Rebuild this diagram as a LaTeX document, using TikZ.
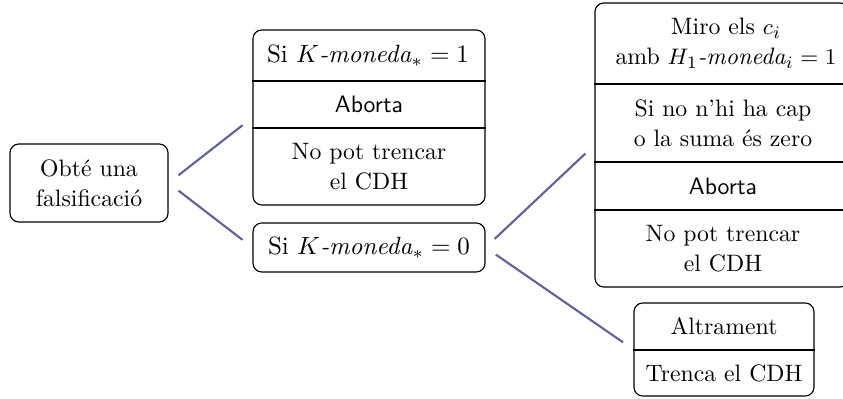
\documentclass[tikz,border=0pt]{standalone}
\usepackage{amsmath}
\definecolor{edgeblue}{RGB}{96,96,164}
\newcommand{\mathline}{\fontsize{10}{12}\selectfont}
\begin{document}
\begin{tikzpicture}[x=0.4pt,y=-0.4pt,
  font=\fontsize{9.5}{12}\selectfont,
  box/.style={draw, rounded corners=3.5pt, inner sep=0pt, line width=0.45pt},
  txt/.style={inner sep=0pt, align=center},
  sep/.style={line width=0.45pt},
  conn/.style={draw=edgeblue, line width=0.85pt, shorten <=5pt, shorten >=5pt}]
\useasboundingbox (0,0) rectangle (843,399);
% left box
\node[box, minimum width=63.2pt, minimum height=31.2pt, txt] (L) at (89,183) {Obté una\\falsificació};
% middle top box
\node[box, minimum width=92.8pt, minimum height=70pt] (M1) at (369,117.5) {};
\node[txt] (M1a) at (368,55.5) {\mathline Si $K$\textit{-moneda}$_* = 1$};
\node[txt] (M1b) at (369,104.5) {\sffamily Aborta};
\node[txt] (M1c) at (369,166.5) {No pot trencar\\el CDH};
\coordinate (m1d1) at (0,81);
\coordinate (m1d2) at (0,128);
\draw[sep] (M1.west|-m1d1) -- (M1.east|-m1d1);
\draw[sep] (M1.west|-m1d2) -- (M1.east|-m1d2);
% middle bottom box
\node[box, minimum width=92.8pt, minimum height=19.6pt, txt] (M2) at (369,247.5) {\mathline Si $K$\textit{-moneda}$_* = 0$};
% right top box
\node[box, minimum width=101.6pt, minimum height=113.6pt] (R1) at (722,145) {};
\node[txt] (R1a) at (726,43.5) {Miro els $c_i$\\amb $H_1$\textit{-moneda}$_i = 1$};
\node[txt] (R1b) at (723,123) {Si no n'hi ha cap\\o la suma és zero};
\node[txt] (R1c) at (723,186) {\sffamily Aborta};
\node[txt] (R1d) at (723,248.5) {No pot trencar\\el CDH};
\coordinate (r1d1) at (0,84);
\coordinate (r1d2) at (0,162);
\coordinate (r1d3) at (0,210);
\draw[sep] (R1.west|-r1d1) -- (R1.east|-r1d1);
\draw[sep] (R1.west|-r1d2) -- (R1.east|-r1d2);
\draw[sep] (R1.west|-r1d3) -- (R1.east|-r1d3);
% right bottom box
\node[box, minimum width=72pt, minimum height=37.2pt] (R2) at (724,349.5) {};
\node[txt] (R2a) at (724,326.5) {Altrament};
\node[txt] (R2b) at (724,373) {Trenca el CDH};
\coordinate (r2d1) at (0,350);
\draw[sep] (R2.west|-r2d1) -- (R2.east|-r2d1);
% connectors
\draw[conn] (L.east) -- (M1.west);
\draw[conn] (L.east) -- (M2.west);
\draw[conn] (M2.east) -- (R1.west);
\draw[conn] (M2.east) -- (R2.west);
\end{tikzpicture}
\end{document}
